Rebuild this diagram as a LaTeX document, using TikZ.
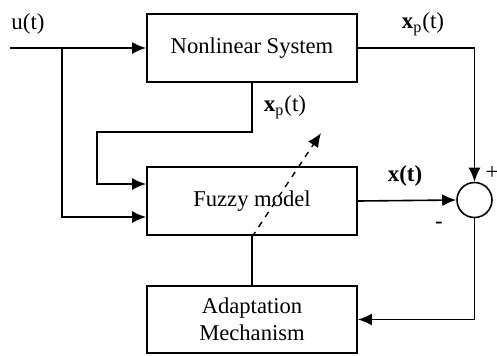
\documentclass[tikz,border=0pt]{standalone}
\usepackage{fontspec}
\setmainfont{Liberation Serif}
\usetikzlibrary{arrows.meta,calc}

\tikzset{
  bloco/.style={draw, line width=0.9pt, minimum width=105pt, minimum height=34pt,
    align=center, font=\fontsize{11.3}{13.5}\selectfont},
  rotulo/.style={font=\fontsize{11.5}{13.5}\selectfont, inner sep=0pt},
  seta/.style={line width=0.8pt, -{Latex[length=7pt, width=6pt]}},
  linha/.style={line width=0.8pt}
}

\begin{document}
\begin{tikzpicture}[x=0.5pt, y=-0.5pt]
      \useasboundingbox (0,0) rectangle (497,355);

      % Blocos
      \node[bloco] (nls)   at (252,48)    {Nonlinear System};
      \node[bloco] (fuzzy) at (252,201)   {Fuzzy model};
      \node[bloco, minimum height=33.5pt] (adapt) at (252,319.5) {Adaptation\\Mechanism};
      \node[draw, circle, line width=0.8pt, minimum size=17.5pt, inner sep=0pt] (sum) at (474.5,200) {};

      % Entrada
      \coordinate (in)  at (10,48);
      \coordinate (br1) at (62,48);
      \coordinate (br2) at (97,132);
      \draw[seta] (in) -- (nls.west);
      \draw[seta] (br1) |- ([yshift=-8pt]fuzzy.west);

      % Saida da planta para o modelo
      \draw[seta] (nls.south) -- (252,132) -- (br2) |- ([yshift=8.5pt]fuzzy.west);

      % Comparador
      \draw[seta] (nls.east) -| (sum.north);
      \draw[seta] (fuzzy.east) -- (sum.west);
      \draw[seta] (sum.south) |- (adapt.east);
      \draw[linha] (fuzzy.south) -- (adapt.north);

      % Ajuste dos parametros
      \coordinate (adj) at (321,133);
      \draw[line width=0.7pt, dashed, -{Latex[length=7pt, width=6pt]}] ($(fuzzy.south)+(0,1)$) -- (adj);

      % Sinais
      \node[rotulo] (u)   at (28,24)   {u(t)};
      \node[rotulo] (xp1) at (423,24)  {\textbf{x}\textsubscript{p}(t)};
      \node[rotulo] (xp2) at (285,107) {\textbf{x}\textsubscript{p}(t)};
      \node[rotulo] (x)   at (405,176) {\textbf{x(t)}};
      \node[rotulo] (mais)  at (492,173) {+};
      \node[rotulo] (menos) at (439,225) {-};

    \end{tikzpicture}
\end{document}
